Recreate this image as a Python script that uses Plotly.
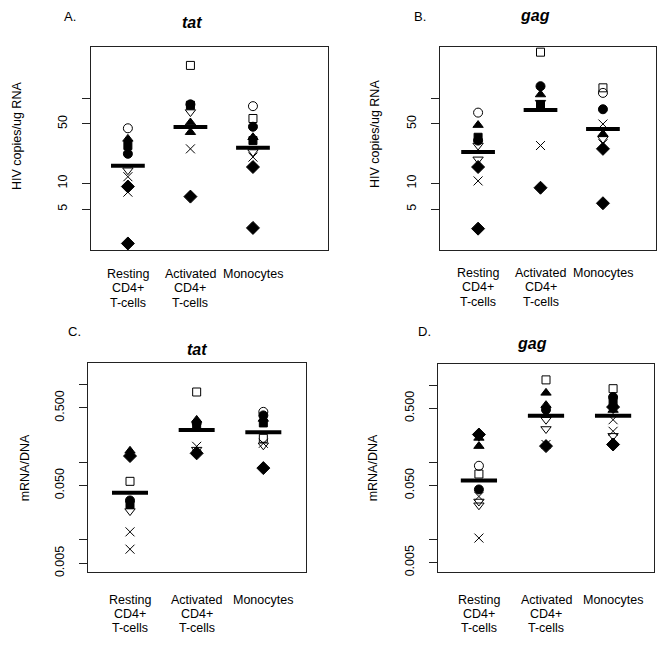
import plotly.graph_objects as go

W, H = 667, 647

# ---------------- data ----------------
categories = ["Resting\nCD4+\nT-cells", "Activated\nCD4+\nT-cells", "Monocytes"]
cat_pos = [1, 2, 3]

# marker codes: O open circle, S open square, c filled circle, s filled square,
# t filled triangle, v open triangle-down, x cross, d filled diamond

# Panel A: tat, HIV copies/ug RNA
a_resting = [44.5, 33.4, 27.9, 22.3, 14.3, 12.0, 9.2, 7.9, 1.97]
a_resting_id = ["O", "t", "s", "c", "v", "x", "d", "x", "d"]
a_activated = [244, 85, 83, 69, 52, 40, 25.5, 7.0]
a_activated_id = ["S", "c", "s", "v", "t", "t", "x", "d"]
a_mono = [81, 58, 46.4, 34.9, 31.9, 23.4, 20.4, 15.6, 3.0]
a_mono_id = ["O", "S", "c", "t", "s", "v", "x", "d", "d"]
a_means = [16.1, 46.0, 26.2]

# Panel B: gag, HIV copies/ug RNA
b_resting = [68, 48.5, 34.9, 31.9, 27.9, 19.2, 15.6, 10.7, 2.94]
b_resting_id = ["O", "t", "s", "c", "v", "v", "d", "x", "d"]
b_activated = [349, 139, 111, 89, 84, 27.9, 8.9]
b_activated_id = ["S", "c", "t", "v", "s", "x", "d"]
b_mono = [133, 116, 74.5, 49.9, 38.1, 33.4, 29.2, 25.5, 5.85]
b_mono_id = ["S", "O", "c", "x", "t", "v", "x", "d", "d"]
b_means = [23.4, 73.0, 43.6]

# Panel C: tat, mRNA/DNA
c_resting = [0.14, 0.12, 0.0567, 0.0322, 0.0286, 0.0235, 0.0127, 0.0076]
c_resting_id = ["t", "d", "S", "c", "s", "v", "x", "x"]
c_activated = [0.80, 0.35, 0.32, 0.30, 0.16, 0.145, 0.13]
c_activated_id = ["S", "t", "c", "s", "x", "v", "d"]
c_mono = [0.444, 0.40, 0.36, 0.32, 0.203, 0.175, 0.165, 0.084]
c_mono_id = ["O", "c", "t", "s", "S", "x", "v", "d"]
c_means = [0.0403, 0.26, 0.242]

# Panel D: gag, mRNA/DNA
d_resting = [0.229, 0.207, 0.162, 0.090, 0.0704, 0.0444, 0.036, 0.031, 0.0277, 0.0104]
d_resting_id = ["d", "t", "t", "O", "S", "c", "x", "v", "v", "x"]
d_activated = [1.17, 0.794, 0.55, 0.48, 0.356, 0.27, 0.17, 0.162]
d_activated_id = ["S", "t", "t", "c", "v", "v", "x", "d"]
d_mono = [0.90, 0.70, 0.60, 0.52, 0.476, 0.356, 0.252, 0.22, 0.17]
d_mono_id = ["S", "c", "s", "d", "t", "x", "x", "v", "d"]
d_means = [0.058, 0.40, 0.40]

copies_ticks = [5, 10, 50, 100]
copies_ticktext = ["5", "10", "50", ""]
ratio_ticks = [0.005, 0.01, 0.05, 0.1, 0.5, 1]
ratio_ticktext = ["0.005", "", "0.050", "", "0.500", ""]

# ---------------- styles ----------------
SYM = {"O": ("circle-open", 9), "S": ("square-open", 8), "c": ("circle", 9),
       "s": ("square", 8), "t": ("triangle-up", 9), "v": ("triangle-down-open", 9),
       "x": ("x-thin-open", 9), "d": ("diamond", 10)}

FONT = "Liberation Sans, Arial, sans-serif"

panels = [
    dict(name="A", gene="tat", ylabel="HIV copies/ug RNA",
         data=[(a_resting, a_resting_id), (a_activated, a_activated_id), (a_mono, a_mono_id)],
         means=a_means, ticks=copies_ticks, ticktext=copies_ticktext,
         box=(91, 328, 47, 252), xr=[0.41, 4.2], yr=[0.217, 2.608],
         letter=(70, 17), title=(192, 23), ylab=(17, 137), catoff=24),
    dict(name="B", gene="gag", ylabel="HIV copies/ug RNA",
         data=[(b_resting, b_resting_id), (b_activated, b_activated_id), (b_mono, b_mono_id)],
         means=b_means, ticks=copies_ticks, ticktext=copies_ticktext,
         box=(440, 656, 47, 252), xr=[0.39, 3.85], yr=[0.217, 2.608],
         letter=(420, 17), title=(535, 16), ylab=(375, 135), catoff=23),
    dict(name="C", gene="tat", ylabel="mRNA/DNA",
         data=[(c_resting, c_resting_id), (c_activated, c_activated_id), (c_mono, c_mono_id)],
         means=c_means, ticks=ratio_ticks, ticktext=ratio_ticktext,
         box=(88, 306, 366, 576), xr=[0.37, 3.64], yr=[-2.407, 0.274],
         letter=(74, 334), title=(197, 352), ylab=(25, 472), catoff=28),
    dict(name="D", gene="gag", ylabel="mRNA/DNA",
         data=[(d_resting, d_resting_id), (d_activated, d_activated_id), (d_mono, d_mono_id)],
         means=d_means, ticks=ratio_ticks, ticktext=ratio_ticktext,
         box=(438, 654, 367, 576), xr=[0.39, 3.61], yr=[-2.417, 0.272],
         letter=(424, 334), title=(532, 346), ylab=(373, 472), catoff=28),
]

fig = go.Figure()
annotations = []
layout_axes = {}

for i, p in enumerate(panels):
    k = "" if i == 0 else str(i + 1)
    xa, ya = "x" + k, "y" + k
    x0, x1, y0, y1 = p["box"]
    layout_axes["xaxis" + k] = dict(
        domain=[x0 / W, x1 / W], range=p["xr"], anchor=ya,
        showticklabels=False, ticks="", showgrid=False, zeroline=False,
        showline=True, mirror=True, linecolor="#222", linewidth=1)
    layout_axes["yaxis" + k] = dict(
        domain=[1 - y1 / H, 1 - y0 / H], range=p["yr"], type="log", anchor=xa,
        tickvals=p["ticks"], ticktext=p["ticktext"], tickangle=-90,
        ticks="outside", ticklen=8, tickcolor="#222", ticklabelstandoff=10,
        tickfont=dict(family=FONT, size=12.5, color="black"),
        showgrid=False, zeroline=False,
        showline=True, mirror=True, linecolor="#222", linewidth=1)

    for ci, (vals, ids) in enumerate(p["data"]):
        fig.add_trace(go.Scatter(
            x=[cat_pos[ci]] * len(vals), y=vals, mode="markers",
            xaxis=xa, yaxis=ya, showlegend=False, hoverinfo="skip",
            marker=dict(symbol=[SYM[s][0] for s in ids], size=[SYM[s][1] for s in ids],
                        color="black", opacity=1, line=dict(color="black", width=1))))

    mx, my = [], []
    for ci, m in enumerate(p["means"]):
        mx += [cat_pos[ci] - 0.27, cat_pos[ci] + 0.27, None]
        my += [m, m, None]
    fig.add_trace(go.Scatter(x=mx, y=my, mode="lines", xaxis=xa, yaxis=ya,
                             line=dict(color="black", width=4), showlegend=False,
                             hoverinfo="skip"))

    # category labels
    for ci, lab in enumerate(categories):
        for li, line in enumerate(lab.split("\n")):
            annotations.append(dict(
                text=line, x=cat_pos[ci], xref=xa, y=0, yref=ya + " domain",
                yanchor="middle", xanchor="center", yshift=-(p["catoff"] + li * 14.3),
                showarrow=False, font=dict(family=FONT, size=12.5, color="black")))

    annotations.append(dict(text=p["name"] + ".", x=p["letter"][0] / W, y=1 - p["letter"][1] / H,
                            xref="paper", yref="paper", showarrow=False,
                            xanchor="center", yanchor="middle",
                            font=dict(family=FONT, size=13, color="black")))
    annotations.append(dict(text="<b><i>" + p["gene"] + "</i></b>", x=p["title"][0] / W,
                            y=1 - p["title"][1] / H, xref="paper", yref="paper",
                            showarrow=False, xanchor="center", yanchor="middle",
                            font=dict(family=FONT, size=16, color="black")))
    annotations.append(dict(text=p["ylabel"], x=p["ylab"][0] / W, y=1 - p["ylab"][1] / H,
                            xref="paper", yref="paper", showarrow=False, textangle=-90,
                            xanchor="center", yanchor="middle",
                            font=dict(family=FONT, size=12.5, color="black")))

fig.update_layout(width=W, height=H, margin=dict(l=0, r=0, t=0, b=0),
                  paper_bgcolor="white", plot_bgcolor="white",
                  annotations=annotations, showlegend=False, **layout_axes)

fig.write_html("out.html", config={"displayModeBar": False},
               post_script="document.body.style.margin='0';")
